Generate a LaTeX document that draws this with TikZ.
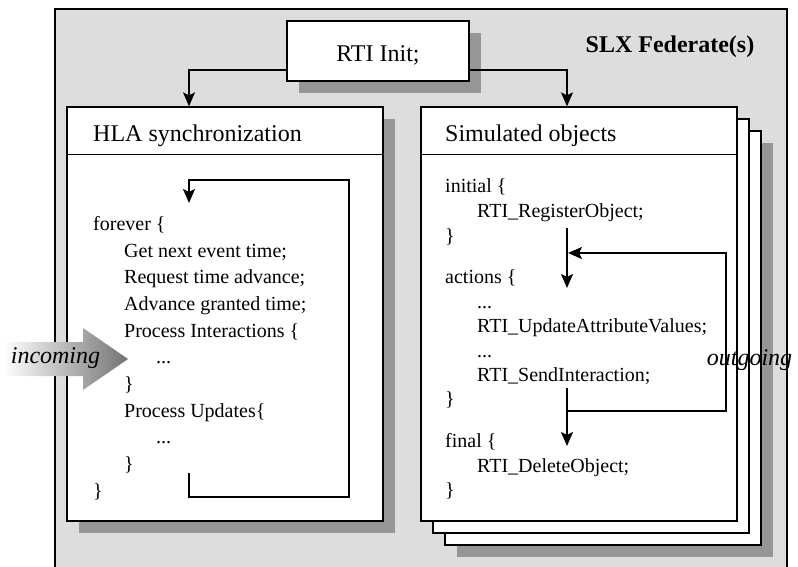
\documentclass[tikz,border=0pt]{standalone}
\usepackage{fontspec}
\setmainfont{Liberation Serif}
\usetikzlibrary{arrows.meta}

\definecolor{framegray}{RGB}{221,221,221}
\definecolor{shadowgray}{RGB}{150,150,150}

\tikzset{
  panel/.style={draw=black, fill=white, line width=1.3pt, inner sep=0pt},
  boxtitle/.style={anchor=base west, inner sep=0pt, font=\fontsize{24}{28}\selectfont},
  codeline/.style={anchor=base west, inner sep=0pt, font=\fontsize{20}{24}\selectfont},
  flow/.style={line width=1.8pt, -{Stealth[length=14pt,width=12pt,inset=3pt]}},
  bigword/.style={anchor=base, inner sep=0pt, font=\fontsize{24}{28}\selectfont\itshape},
}

\begin{document}
\begin{tikzpicture}[%
      x=1pt, y=-1pt,
      ]
      \useasboundingbox (0,0) rectangle (798,567);
      % federate frame, runs off the bottom
      \fill [framegray] (55,9) rectangle (787,567);
      \draw [line width=1.3pt] (55,567) -- (55,9) -- (787,9) -- (787,567);
      \node [anchor=base, inner sep=0pt, font=\fontsize{24}{28}\selectfont\bfseries] (slx) at (670,53) {SLX Federate(s)};

      % shadows
      \fill [shadowgray] (299,33) rectangle (481,93);
      \fill [shadowgray] (79,119) rectangle (395,533);
      \fill [shadowgray] (457,143) rectangle (773,557);

      % boxes
      \node [panel, minimum width=182, minimum height=60] (rti) at (378,51) {};
      \node [boxtitle, anchor=base] (rtitext) at (378,62) {RTI Init;};

      \node [panel, minimum width=316, minimum height=414] (hla) at (225,314) {};
      \draw [line width=1.3pt] ([yshift=-48pt]hla.north west) -- ([yshift=-48pt]hla.north east);
      \node [boxtitle] (hlatitle) at (93,142) {HLA synchronization};

      \node [panel, minimum width=316, minimum height=414] (sim3) at (603,338) {};
      \node [panel, minimum width=316, minimum height=414] (sim2) at (591,326) {};
      \node [panel, minimum width=316, minimum height=414] (sim) at (579,314) {};
      \draw [line width=1.3pt] ([yshift=-48pt]sim.north west) -- ([yshift=-48pt]sim.north east);
      \node [boxtitle] (simtitle) at (445,142) {Simulated objects};

      \draw [flow] ([yshift=-19pt]rti.west) -| ([xshift=-36pt]hla.north);
      \draw [flow] ([yshift=-19pt]rti.east) -| ([xshift=-12pt]sim.north);

      % HLA loop
      \node [codeline] (hl1) at (93,230) {forever \{};
      \node [codeline] (hl2) at (124,257) {Get next event time;};
      \node [codeline] (hl3) at (124,283) {Request time advance;};
      \node [codeline] (hl4) at (124,310) {Advance granted time;};
      \node [codeline] (hl5) at (124,337) {Process Interactions \{};
      \node [codeline] (hl6) at (156,363) {...};
      \node [codeline] (hl7) at (124,390) {\}};
      \node [codeline] (hl8) at (124,417) {Process Updates\{};
      \node [codeline] (hl9) at (156,443) {...};
      \node [codeline] (hl10) at (124,470) {\}};
      \node [codeline] (hl11) at (93,497) {\}};

      \coordinate (syncend) at (189,473);
      \coordinate (synctop) at (189,203);
      \draw [flow] (syncend) |- (349,497) |- (189,180) -- (synctop);

      % object code
      \node [codeline] (sl1) at (445,193) {initial \{};
      \node [codeline] (sl2) at (477,217) {RTI\_RegisterObject;};
      \node [codeline] (sl3) at (445,242) {\}};
      \node [codeline] (sl4) at (445,283) {actions \{};
      \node [codeline] (sl5) at (477,308) {...};
      \node [codeline] (sl6) at (477,332) {RTI\_UpdateAttributeValues;};
      \node [codeline] (sl7) at (477,357) {...};
      \node [codeline] (sl8) at (477,381) {RTI\_SendInteraction;};
      \node [codeline] (sl9) at (445,405) {\}};
      \node [codeline] (sl10) at (445,447) {final \{};
      \node [codeline] (sl11) at (477,472) {RTI\_DeleteObject;};
      \node [codeline] (sl12) at (445,496) {\}};

      \coordinate (regout) at (567,228);
      \coordinate (actin) at (567,288);
      \coordinate (sendout) at (567,388);
      \coordinate (finalin) at (567,446);
      \coordinate (junction) at (567,411);
      \coordinate (rejoin) at (568,253);
      \draw [flow] (regout) -- (actin);
      \draw [flow] (sendout) -- (finalin);
      \draw [flow] (junction) -| (726,253) -- (rejoin);

      % incoming arrow
      \shade [left color=white, right color=black!55] (3,342) -- (83,342) -- (83,328) -- (128,359) -- (83,390) -- (83,376) -- (3,376) -- cycle;
      \node [bigword] (incoming) at (55.5,363) {incoming};
      \node [bigword] (outgoing) at (749.5,365) {outgoing};
\end{tikzpicture}
\end{document}
